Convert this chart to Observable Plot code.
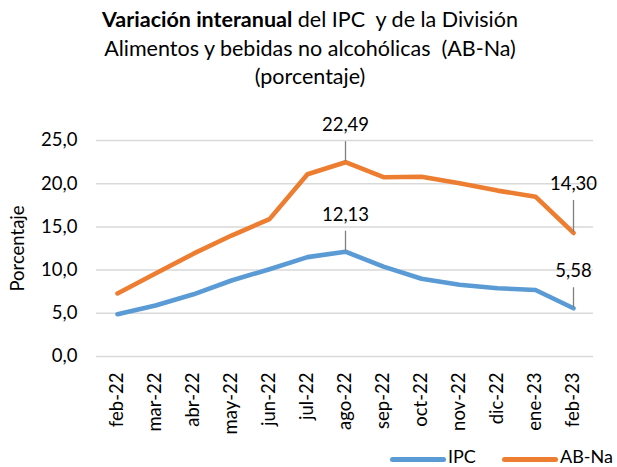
<!DOCTYPE html>
<html><head><meta charset="utf-8">
<script src="https://cdn.jsdelivr.net/npm/d3@7"></script>
<script src="https://cdn.jsdelivr.net/npm/@observablehq/plot@0.6"></script>
<style>
body{margin:0;width:617px;height:467px;overflow:hidden;background:#fff;font-family:Lato,sans-serif;color:#000}
#title{height:95px;box-sizing:border-box;padding-top:5px;text-align:center;font-size:21.5px;line-height:28.5px;padding-left:3px}
#chart svg{display:block}
#legend{position:relative;height:27px;font-size:18px;line-height:22px}
#legend .sw{position:absolute;top:17px;width:56px;height:5px;border-radius:3px}
#legend .tx{position:absolute;top:5px}
</style></head><body>
<div id="title"><b>Variación interanual</b> del IPC&nbsp; y de la División<br>Alimentos y bebidas no alcohólicas&nbsp; (AB-Na)<br>(porcentaje)</div>
<div id="chart"></div>
<div id="legend"></div>
<script>
const months = ["feb-22","mar-22","abr-22","may-22","jun-22","jul-22","ago-22","sep-22","oct-22","nov-22","dic-22","ene-23","feb-23"];
const ipc  = [4.9, 5.9, 7.2, 8.8, 10.1, 11.5, 12.13, 10.4, 9.0, 8.3, 7.9, 7.7, 5.58];
const abna = [7.3, 9.6, 11.9, 14.0, 15.9, 21.1, 22.49, 20.75, 20.8, 20.05, 19.2, 18.5, 14.30];
const seriesNames = ["IPC", "AB-Na"];
const seriesColors = ["#5B9BD5", "#ED7D31"];
const yTicks = [0, 5, 10, 15, 20, 25];
const labeledMonths = ["ago-22", "feb-23"];

const rows = months.flatMap((m, i) => [
  {month: m, series: "IPC", value: ipc[i]},
  {month: m, series: "AB-Na", value: abna[i]}
]);
const ann = rows.filter(d => labeledMonths.includes(d.month));

const W = 617, H = 345, mT = 45, mB = 84, mL = 96, mR = 24;
const k = (H - mT - mB) / 25; // px per unit
const lift = d => (d.series === "AB-Na" && d.month === "feb-23") ? 43 : 31;

const loc = d3.formatLocale({decimal: ",", thousands: ".", grouping: [3], currency: ["", ""]});
const f1 = loc.format(".1f"), f2 = loc.format(".2f");

const chart = Plot.plot({
  width: W, height: H,
  marginTop: mT, marginBottom: mB, marginLeft: mL, marginRight: mR,
  style: {fontFamily: "Lato, sans-serif", fontSize: "18.5px", color: "#000", background: "#fff"},
  x: {type: "point", domain: months, padding: 0.5},
  y: {domain: [0, 25]},
  color: {domain: seriesNames, range: seriesColors},
  marks: [
    Plot.gridY(yTicks, {stroke: "#d9d9d9", strokeOpacity: 1, strokeWidth: 1.5}),
    Plot.axisY({ticks: yTicks, tickFormat: f1, tickSize: 0, tickPadding: 19, label: "Porcentaje", labelAnchor: "center", labelOffset: 86, labelArrow: "none"}),
    Plot.axisX({tickRotate: -90, tickSize: 0, tickPadding: 16, label: null}),
    Plot.line(rows, {x: "month", y: "value", stroke: "series", z: "series", strokeWidth: 4.6, strokeLinecap: "round", strokeLinejoin: "round"}),
    Plot.link(ann, {x1: "month", x2: "month", y1: d => d.value + 1 / k, y2: d => d.value + (lift(d) - 10) / k, stroke: "#7f7f7f", strokeWidth: 1.3}),
    Plot.text(ann, {x: "month", y: d => d.value + lift(d) / k, text: d => f2(d.value), lineAnchor: "bottom", fill: "#000", fontSize: 18.5})
  ]
});
document.getElementById("chart").appendChild(chart);

const legend = document.getElementById("legend");
const legendX = [390, 502];
seriesNames.forEach((s, i) => {
  const sw = document.createElement("div");
  sw.className = "sw"; sw.style.left = legendX[i] + "px"; sw.style.background = seriesColors[i];
  const tx = document.createElement("div");
  tx.className = "tx"; tx.style.left = (legendX[i] + 58) + "px"; tx.textContent = s;
  legend.appendChild(sw); legend.appendChild(tx);
});
</script>
</body></html>
